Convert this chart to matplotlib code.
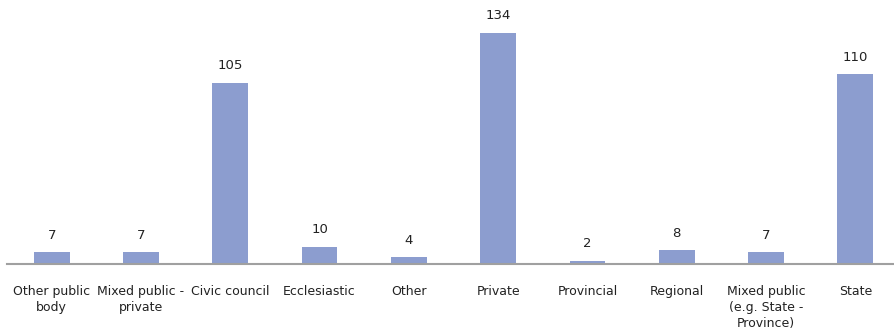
import matplotlib.pyplot as plt

categories = ["Other public\nbody", "Mixed public -\nprivate", "Civic council", "Ecclesiastic",
              "Other", "Private", "Provincial", "Regional",
              "Mixed public\n(e.g. State -\nProvince)", "State"]
values = [7, 7, 105, 10, 4, 134, 2, 8, 7, 110]

BAR_COLOR = "#8c9dcf"

def main():
    fig = plt.figure(figsize=(8.94, 3.29), dpi=100)
    ax = fig.add_axes([7 / 894, 65 / 329, 893 / 894, 264 / 329])
    x = range(len(values))
    bars = ax.bar(x, values, width=0.4, color=BAR_COLOR)
    for b, v in zip(bars, values):
        ax.text(b.get_x() + b.get_width() / 2, v + 6, str(v), ha="center", va="bottom",
                fontsize=9.5, color="#222222")
    ax.set_xlim(-0.5, len(values) - 0.5)
    ax.set_ylim(0, 153)
    ax.set_xticks(list(x))
    ax.set_xticklabels(categories, fontsize=9, color="#222222", linespacing=1.3)
    ax.tick_params(axis="x", length=0, pad=15)
    ax.set_yticks([])
    for s in ["top", "right", "left"]:
        ax.spines[s].set_visible(False)
    ax.spines["bottom"].set_color("#a0a0a0")
    ax.spines["bottom"].set_linewidth(1.5)
    fig.savefig("out.png", dpi=100)

if __name__ == "__main__":
    main()
